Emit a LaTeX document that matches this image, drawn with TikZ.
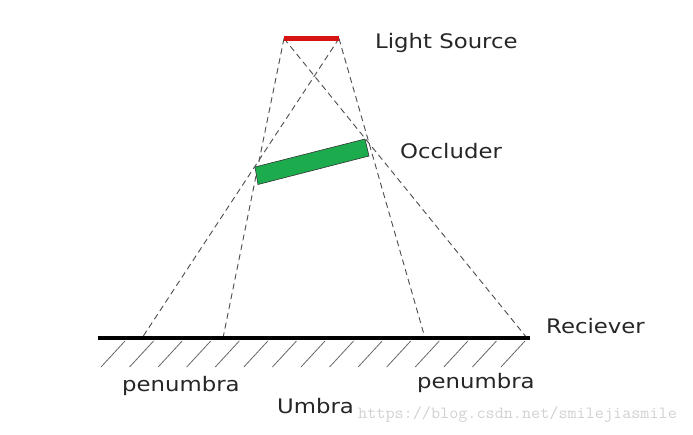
\documentclass[tikz,border=0pt]{standalone}
\usepackage{fontspec}
\usepackage{graphicx}
\setmainfont{DejaVu Sans}
\definecolor{occgreen}{RGB}{28,172,78}
\definecolor{lampred}{RGB}{215,20,20}
\begin{document}
\begin{tikzpicture}[x=1pt,y=-1pt,
  lbl/.style={anchor=base west,inner sep=0pt,text=black!85,font=\fontsize{20}{24}\selectfont},
  ray/.style={draw=black!70,dash pattern=on 6pt off 4pt,line width=0.9pt},
  hatchline/.style={draw=black!60,line width=0.8pt},
  ground/.style={draw=black,line width=4pt},
  lamp/.style={draw=lampred,line width=5pt},
  occl/.style={fill=occgreen,draw=black!80,line width=0.6pt}]
\useasboundingbox (0,0) rectangle (693,434);
% light source
\coordinate (L) at (284,38.5);
\coordinate (R) at (339,38.5);
% receiver
\coordinate (G1) at (98,338);
\coordinate (G2) at (530,338);
% ray ends
\coordinate (P1) at (142,338);
\coordinate (U1) at (223,338);
\coordinate (U2) at (425,338);
\coordinate (P2) at (527,338);
% rays
\draw[ray] (R) -- (P1);
\draw[ray] (L) -- (U1);
\draw[ray] (L) -- (P2);
\draw[ray] (R) -- (U2);
% occluder
\coordinate (O1) at (255,167);
\coordinate (O2) at (365,139);
\coordinate (O3) at (369,156);
\coordinate (O4) at (258,184.5);
\path[occl] (O1) -- (O2) -- (O3) -- (O4) -- cycle;
% light source bar
\draw[lamp] (L) -- (R);
% hatching
\foreach \i in {0,...,14}{
  \draw[hatchline] (125+\i*28.57,341) -- (101+\i*28.57,367);
}
\draw[ground] (G1) -- (G2);
% labels
\node[lbl] (tLS) at (375,48) {\scalebox{1.14}[1]{Light Source}};
\node[lbl] (tOc) at (400,158) {\scalebox{1.14}[1]{Occluder}};
\node[lbl] (tRe) at (546,333) {\scalebox{1.14}[1]{Reciever}};
\node[lbl] (tP1) at (122,391) {\scalebox{1.14}[1]{penumbra}};
\node[lbl] (tP2) at (417,388) {\scalebox{1.14}[1]{penumbra}};
\node[lbl] (tUm) at (277,413) {\scalebox{1.14}[1]{Umbra}};
\node[anchor=base west,inner sep=0pt,text=black!18,font=\ttfamily\fontsize{17}{20}\selectfont] (wm) at (358,418) {\scalebox{1.04}[1]{https://blog.csdn.net/smilejiasmile}};
\end{tikzpicture}
\end{document}
